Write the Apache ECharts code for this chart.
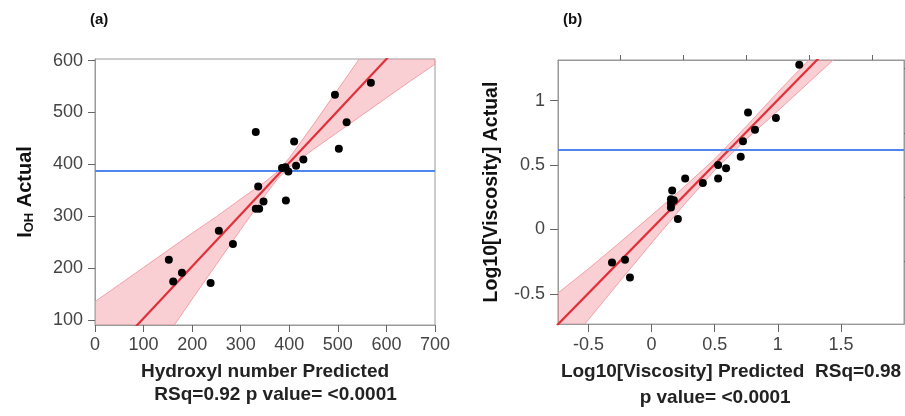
<!DOCTYPE html>
<html>
<head>
<meta charset="utf-8">
<script src="https://cdn.jsdelivr.net/npm/echarts@6/dist/echarts.min.js"></script>
<style>
  html, body { margin: 0; padding: 0; background: #fff; }
  #chart { width: 905px; height: 416px; }
</style>
</head>
<body>
<div id="chart"></div>
<script>
// (a) hydroxyl number: predicted vs actual
const hydroxylPredicted = [152, 161, 179, 238, 255, 284, 331, 336, 331, 338, 347, 385, 392, 398, 393, 410, 414, 429, 494, 502, 518, 568];
const hydroxylActual    = [216, 174, 191, 171, 272, 246, 462, 357, 314, 314, 328, 393, 394, 386, 330, 444, 397, 409, 534, 430, 481, 557];
const hydroxylMean = 387;
const hydroxylFitX = [0, 700];
const hydroxylFitY = [3, 703];
const hydroxylBandX     = [0, 50, 100, 150, 200, 250, 300, 350, 375, 400, 450, 500, 550, 600, 650, 700];
const hydroxylBandUpper = [135, 168, 201, 234, 267, 299, 333, 366, 385, 412, 477, 544, 611, 678, 745, 813];
const hydroxylBandLower = [-129, -62, 5, 72, 140, 207, 274, 340, 371, 394, 429, 462, 495, 528, 561, 593];
const hydroxylTicksY = [100, 200, 300, 400, 500, 600];

// (b) log10 viscosity: predicted vs actual
const viscPredicted = [-0.314, -0.211, -0.172, 0.163, 0.153, 0.176, 0.153, 0.153, 0.208, 0.266, 0.406, 0.527, 0.527, 0.590, 0.706, 0.724, 0.764, 0.819, 0.985, 1.170];
const viscActual    = [-0.257, -0.235, -0.373, 0.302, 0.234, 0.227, 0.201, 0.171, 0.080, 0.396, 0.360, 0.396, 0.499, 0.474, 0.564, 0.685, 0.908, 0.774, 0.865, 1.278];
const viscMean = 0.617;
const viscFitX = [-0.75, 1.5];
const viscFitY = [-0.745, 1.505];
const viscBandX     = [-0.75, -0.5, -0.25, 0, 0.25, 0.5, 0.75, 1.0, 1.25, 1.5];
const viscBandUpper = [-0.50, -0.305, -0.10, 0.11, 0.323, 0.547, 0.80, 1.065, 1.32, 1.595];
const viscBandLower = [-0.99, -0.70, -0.40, -0.105, 0.183, 0.46, 0.70, 0.92, 1.145, 1.37];
const viscTicksXMajor = [-0.5, 0, 0.5, 1, 1.5];
const viscTicksXMinor = [-0.25, 0.25, 0.75, 1.25, 1.75];
const viscTicksYMajor = [-0.5, 0, 0.5, 1];
const viscTicksYMinor = [-0.25, 0.25, 0.75, 1.25];

const FONT = 'Liberation Sans, Arial, sans-serif';
const RED = '#e0303a';
const BAND = 'rgba(244, 145, 155, 0.44)';
const BAND_EDGE = '#f2a0a9';
const BLUE = '#4f86ee';
const FRAME = '#999';

const pairs = (xs, ys) => xs.map((x, i) => [x, ys[i]]);

const chart = echarts.init(document.getElementById('chart'), null, { renderer: 'canvas' });

const labelStyle = { color: '#444', fontSize: 18, fontFamily: FONT };
const tickStyle = { lineStyle: { color: '#666', width: 1 } };
const frameLine = { show: true, onZero: false, lineStyle: { color: FRAME, width: 1 } };

// confidence band as one polygon: upper edge out, lower edge back
function bandSeries(xi, yi, xs, lower, upper) {
  return {
    type: 'custom', xAxisIndex: xi, yAxisIndex: yi, silent: true, z: 1,
    data: xs.map((x, i) => [x, lower[i], upper[i]]),
    encode: { x: 0, y: [1, 2] },
    renderItem: (params, api) => {
      if (params.dataIndex !== 0) return;
      const pts = [];
      xs.forEach((x, i) => pts.push(api.coord([x, upper[i]])));
      for (let i = xs.length - 1; i >= 0; i--) pts.push(api.coord([xs[i], lower[i]]));
      const cs = params.coordSys;
      return {
        type: 'polygon',
        shape: { points: pts },
        style: { fill: BAND, stroke: BAND_EDGE, lineWidth: 1 },
        clipPath: { type: 'rect', shape: { x: cs.x, y: cs.y, width: cs.width, height: cs.height } }
      };
    }
  };
}

const option = {
  animation: false,
  graphic: [
    { type: 'text', left: 90, top: 12, style: { text: '(a)', font: 'bold 15px ' + FONT, fill: '#111' } },
    { type: 'text', left: 563, top: 12, style: { text: '(b)', font: 'bold 15px ' + FONT, fill: '#111' } }
  ],
  grid: [
    { left: 95, top: 59, width: 340, height: 266, show: true, borderColor: FRAME, borderWidth: 1, backgroundColor: '#fff' },
    { left: 558, top: 60, width: 346, height: 271, show: true, borderColor: FRAME, borderWidth: 1, backgroundColor: '#fff' }
  ],
  xAxis: [
    {
      gridIndex: 0, type: 'value', min: 0, max: 700, interval: 100,
      axisLine: frameLine, splitLine: { show: false },
      axisTick: Object.assign({ show: true, inside: false, length: 7 }, tickStyle),
      axisLabel: Object.assign({ margin: 11 }, labelStyle),
      name: 'Hydroxyl number Predicted\n    RSq=0.92 p value= <0.0001',
      nameLocation: 'middle', nameGap: 35,
      nameTextStyle: { fontSize: 19, fontWeight: 'bold', fontFamily: FONT, color: '#222', lineHeight: 23 }
    },
    {
      gridIndex: 1, type: 'value', min: -0.742, max: 2.0,
      axisLine: frameLine, splitLine: { show: false },
      axisTick: Object.assign({ show: true, inside: false, length: 8, customValues: viscTicksXMajor }, tickStyle),
      axisLabel: Object.assign({ margin: 12, customValues: viscTicksXMajor }, labelStyle),
      name: 'Log10[Viscosity] Predicted  RSq=0.98\np value= <0.0001      ',
      nameLocation: 'middle', nameGap: 34,
      nameTextStyle: { fontSize: 19, fontWeight: 'bold', fontFamily: FONT, color: '#222', lineHeight: 26 }
    },
    {
      gridIndex: 1, type: 'value', min: -0.742, max: 2.0,
      axisLine: frameLine, splitLine: { show: false },
      axisTick: Object.assign({ show: true, inside: false, length: 5, customValues: viscTicksXMinor }, tickStyle),
      axisLabel: { show: false }
    }
  ],
  yAxis: [
    {
      gridIndex: 0, type: 'value', min: 90, max: 603,
      axisLine: frameLine, splitLine: { show: false },
      axisTick: Object.assign({ show: true, inside: false, length: 7, customValues: hydroxylTicksY }, tickStyle),
      axisLabel: Object.assign({ margin: 12, customValues: hydroxylTicksY }, labelStyle),
      name: '{b|I}{s|OH}{b| Actual}',
      nameLocation: 'middle', nameGap: 58, nameRotate: 90,
      nameTextStyle: {
        color: '#111',
        rich: {
          b: { fontSize: 20, fontWeight: 'bold', fontFamily: FONT, color: '#111', lineHeight: 24 },
          s: { fontSize: 13, fontWeight: 'bold', fontFamily: FONT, color: '#111', lineHeight: 13, padding: [9, 0, 0, 0] }
        }
      }
    },
    {
      gridIndex: 1, type: 'value', min: -0.735, max: 1.315,
      axisLine: frameLine, splitLine: { show: false },
      axisTick: Object.assign({ show: true, inside: false, length: 8, customValues: viscTicksYMajor }, tickStyle),
      axisLabel: Object.assign({ margin: 13, customValues: viscTicksYMajor }, labelStyle),
      name: 'Log10[Viscosity] Actual',
      nameLocation: 'middle', nameGap: 56, nameRotate: 90,
      nameTextStyle: { fontSize: 19.5, fontWeight: 'bold', fontFamily: FONT, color: '#111' }
    },
    {
      gridIndex: 1, type: 'value', min: -0.735, max: 1.315,
      axisLine: frameLine, splitLine: { show: false },
      axisTick: Object.assign({ show: true, inside: false, length: 5, customValues: viscTicksYMinor }, tickStyle),
      axisLabel: { show: false }
    }
  ],
  series: [
    bandSeries(0, 0, hydroxylBandX, hydroxylBandLower, hydroxylBandUpper),
    {
      type: 'line', xAxisIndex: 0, yAxisIndex: 0, data: pairs(hydroxylFitX, hydroxylFitY), z: 2,
      symbol: 'none', silent: true, lineStyle: { color: RED, width: 2.2 }
    },
    {
      type: 'scatter', xAxisIndex: 0, yAxisIndex: 0, data: pairs(hydroxylPredicted, hydroxylActual), z: 4,
      symbolSize: 8, itemStyle: { color: '#000', opacity: 1 },
      markLine: {
        silent: true, symbol: 'none', label: { show: false }, z: 3,
        lineStyle: { color: BLUE, width: 2, type: 'solid' },
        data: [{ yAxis: hydroxylMean }]
      }
    },
    bandSeries(1, 1, viscBandX, viscBandLower, viscBandUpper),
    {
      type: 'line', xAxisIndex: 1, yAxisIndex: 1, data: pairs(viscFitX, viscFitY), z: 2,
      symbol: 'none', silent: true, lineStyle: { color: RED, width: 2.2 }
    },
    {
      type: 'scatter', xAxisIndex: 1, yAxisIndex: 1, data: pairs(viscPredicted, viscActual), z: 4,
      symbolSize: 8, itemStyle: { color: '#000', opacity: 1 },
      markLine: {
        silent: true, symbol: 'none', label: { show: false }, z: 3,
        lineStyle: { color: BLUE, width: 2, type: 'solid' },
        data: [{ yAxis: viscMean }]
      }
    }
  ]
};

chart.setOption(option);
window.addEventListener('resize', () => chart.resize());
</script>
</body>
</html>
